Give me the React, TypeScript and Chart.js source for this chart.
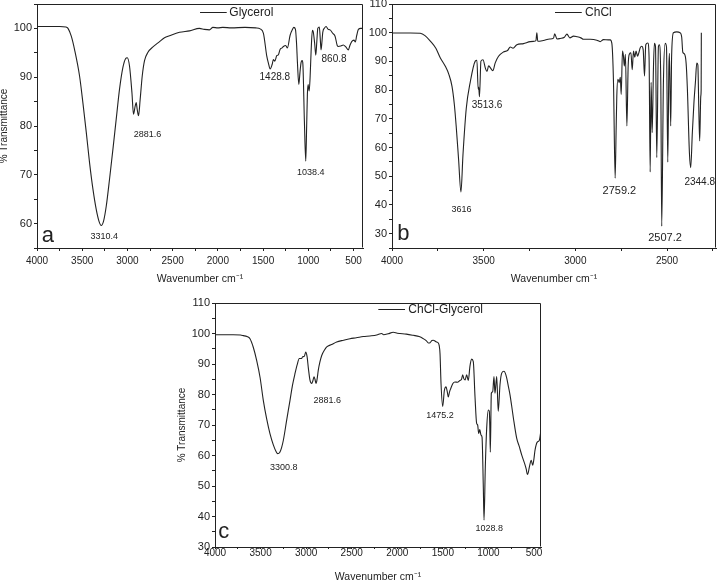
import React, { useEffect, useRef } from 'react';
import { Chart, registerables } from 'chart.js';

Chart.register(...registerables);

// ---------- Data (wavenumber cm-1, % transmittance) ----------
const glycerolWn = [4000, 3750, 3680, 3657, 3621, 3584, 3529, 3492, 3455, 3419, 3381, 3345, 3315, 3290, 3264, 3234, 3198, 3160, 3124, 3087, 3050, 3021, 3002, 2977, 2950, 2933, 2914, 2903, 2892, 2877, 2859, 2836, 2811, 2773, 2718, 2645, 2590, 2535, 2424, 2314, 2203, 2150, 2093, 2055, 2000, 1945, 1850, 1700, 1580, 1532, 1496, 1459, 1440, 1422, 1400, 1386, 1370, 1349, 1330, 1312, 1290, 1275, 1250, 1231, 1201, 1175, 1160, 1142, 1130, 1120, 1105, 1092, 1080, 1068, 1061, 1043, 1028, 1018, 1010, 1002, 997, 990, 980, 969, 955, 945, 930, 917, 905, 895, 878, 868, 859, 850, 840, 820, 803, 780, 759, 730, 704, 680, 667, 640, 612, 585, 557, 540, 520, 495, 480, 465, 446, 420, 397];
const glycerolT = [100.4, 100.4, 100.3, 100.0, 98.4, 95.6, 90.2, 84.7, 78.7, 72.5, 67.0, 62.9, 60.5, 59.6, 60.5, 63.6, 69.1, 75.3, 81.4, 87.6, 92.0, 93.8, 94.0, 92.3, 86.8, 82.4, 84.1, 84.8, 83.4, 82.1, 85.5, 90.3, 93.4, 95.1, 96.2, 97.3, 98.1, 98.5, 99.2, 99.5, 100.0, 99.8, 99.7, 100.2, 100.1, 100.2, 100.1, 100.2, 100.1, 99.9, 99.0, 94.3, 92.8, 91.7, 92.6, 93.6, 93.3, 94.4, 94.6, 95.7, 96.0, 96.3, 96.5, 96.0, 98.6, 99.8, 100.2, 99.8, 97.0, 93.0, 88.5, 91.0, 93.0, 93.4, 93.0, 80.9, 72.8, 80.0, 86.5, 88.5, 87.8, 87.2, 90.0, 95.2, 99.6, 99.3, 97.0, 94.5, 97.5, 100.0, 100.3, 98.0, 95.6, 97.0, 99.2, 100.1, 100.4, 99.8, 99.7, 99.0, 98.4, 96.5, 96.3, 96.4, 96.6, 96.2, 95.6, 96.5, 97.3, 97.6, 97.2, 98.5, 99.8, 100.0, 100.0];

const chclWn = [4000, 3900, 3846, 3820, 3791, 3760, 3737, 3710, 3690, 3673, 3660, 3650, 3637, 3624, 3613, 3595, 3573, 3546, 3537, 3530, 3527, 3523, 3515, 3504, 3490, 3482, 3473, 3464, 3450, 3437, 3419, 3392, 3370, 3355, 3340, 3319, 3283, 3246, 3225, 3215, 3210, 3205, 3174, 3140, 3119, 3113, 3100, 3083, 3060, 3046, 3030, 3010, 2992, 2970, 2956, 2919, 2883, 2865, 2847, 2820, 2810, 2801, 2792, 2783, 2778, 2774, 2768, 2761, 2755, 2750, 2743, 2738, 2733, 2727, 2719, 2712, 2705, 2697, 2690, 2683, 2676, 2669, 2661, 2654, 2646, 2638, 2630, 2623, 2616, 2605, 2598, 2592, 2587, 2581, 2574, 2569, 2563, 2556, 2547, 2542, 2534, 2529, 2520, 2510, 2503, 2496, 2490, 2487, 2480, 2475, 2465, 2447, 2429, 2420, 2414, 2405, 2396, 2389, 2378, 2371, 2362, 2353, 2345, 2338, 2332, 2327, 2322, 2316, 2314, 2313];
const chclT = [99.9, 99.9, 99.8, 99.0, 97.1, 94.5, 91.3, 88.4, 85.5, 81.4, 75.0, 67.5, 56.0, 44.5, 57.4, 73.6, 82.9, 90.1, 90.4, 80.3, 81.0, 77.7, 90.1, 90.6, 87.5, 86.5, 88.5, 87.8, 86.8, 89.5, 91.8, 93.3, 93.8, 95.0, 94.6, 95.8, 96.2, 96.9, 97.0, 97.3, 100.0, 97.0, 97.3, 97.8, 98.1, 99.6, 97.8, 98.0, 98.4, 99.5, 98.2, 98.8, 98.6, 98.2, 97.7, 97.7, 97.4, 96.9, 97.6, 97.5, 97.5, 96.3, 82.6, 49.3, 65.0, 77.9, 83.8, 82.6, 84.5, 78.5, 93.6, 92.0, 88.4, 92.5, 67.5, 88.4, 92.6, 93.0, 87.1, 93.6, 91.5, 93.6, 91.8, 93.0, 94.8, 95.3, 94.0, 84.9, 95.8, 96.4, 91.5, 51.5, 82.7, 65.2, 88.0, 96.3, 95.2, 56.5, 95.2, 95.8, 82.0, 32.6, 82.0, 96.3, 95.0, 54.9, 88.0, 92.8, 67.5, 92.0, 100.0, 100.3, 100.0, 98.4, 93.2, 92.6, 89.4, 80.3, 58.2, 53.0, 65.2, 76.0, 83.0, 89.4, 88.8, 74.3, 62.3, 77.9, 80.0, 100.0];

const mixWn = [4000, 3800, 3720, 3689, 3650, 3616, 3580, 3543, 3505, 3470, 3433, 3397, 3360, 3330, 3312, 3290, 3270, 3250, 3214, 3177, 3150, 3122, 3098, 3075, 3050, 3038, 3020, 3005, 2990, 2975, 2958, 2939, 2926, 2914, 2903, 2892, 2880, 2867, 2850, 2829, 2800, 2774, 2720, 2665, 2590, 2519, 2450, 2373, 2300, 2226, 2171, 2150, 2100, 2044, 2000, 1970, 1900, 1824, 1760, 1714, 1680, 1659, 1640, 1620, 1605, 1575, 1550, 1540, 1531, 1520, 1502, 1483, 1465, 1452, 1440, 1427, 1414, 1390, 1367, 1340, 1312, 1295, 1282, 1270, 1255, 1239, 1221, 1202, 1184, 1166, 1147, 1129, 1118, 1107, 1095, 1081, 1070, 1056, 1048, 1034, 1019, 1001, 990, 985, 979, 968, 953, 939, 928, 909, 892, 873, 854, 829, 815, 799, 780, 763, 745, 726, 690, 660, 635, 599, 585, 573, 562, 551, 530, 514, 500, 489, 464, 442, 426];
const mixT = [99.6, 99.6, 99.5, 99.3, 99.0, 98.3, 95.5, 91.2, 85.5, 78.1, 72.0, 67.2, 63.5, 61.3, 60.6, 61.0, 62.5, 65.0, 71.5, 78.1, 83.0, 86.9, 89.8, 91.8, 91.8, 92.4, 92.5, 93.9, 92.5, 88.5, 84.7, 83.6, 84.5, 85.8, 85.0, 83.6, 85.0, 87.9, 90.5, 92.8, 94.5, 95.6, 96.4, 97.2, 97.8, 98.3, 98.6, 99.0, 99.2, 99.5, 100.0, 99.6, 99.9, 100.4, 100.1, 100.0, 99.8, 99.4, 99.0, 98.3, 97.6, 96.9, 97.0, 97.7, 97.8, 97.3, 96.9, 96.0, 93.4, 83.6, 76.1, 81.4, 82.5, 81.0, 79.2, 80.8, 81.9, 83.6, 84.1, 84.0, 84.6, 85.0, 86.5, 85.2, 84.8, 86.5, 84.6, 89.4, 91.6, 90.8, 79.2, 70.5, 70.0, 67.2, 68.5, 66.7, 66.0, 49.7, 38.8, 56.3, 68.9, 74.9, 74.5, 70.0, 61.1, 80.4, 80.9, 85.9, 80.4, 85.9, 74.5, 83.2, 87.0, 87.6, 87.0, 85.4, 82.5, 79.9, 76.3, 72.3, 65.7, 62.8, 60.2, 57.0, 55.5, 53.8, 54.5, 56.2, 58.4, 56.8, 59.0, 61.7, 64.4, 64.9, 67.7];

// Tick values
const xTicksFull = [4000, 3750, 3500, 3250, 3000, 2750, 2500, 2250, 2000, 1750, 1500, 1250, 1000, 750, 500];
const yTicksA = [55, 60, 65, 70, 75, 80, 85, 90, 95, 100, 105];
const yTicksB = [25, 30, 35, 40, 45, 50, 55, 60, 65, 70, 75, 80, 85, 90, 95, 100, 105, 110];
const yTicksC = [30, 35, 40, 45, 50, 55, 60, 65, 70, 75, 80, 85, 90, 95, 100, 105, 110];

// Peak annotations: [text, wavenumber, %T, font size]
const peaksA: [string, number, number, number][] = [
  ['3310.4', 3256, 57.4, 9],
  ['2881.6', 2778, 78.3, 9],
  ['1428.8', 1370, 90.0, 10],
  ['1038.4', 972, 70.4, 9],
  ['860.8', 715, 93.6, 10],
];
const peaksB: [string, number, number, number][] = [
  ['3513.6', 3482, 74.7, 10],
  ['3616', 3621, 38.5, 9],
  ['2759.2', 2760, 44.8, 11],
  ['2507.2', 2511, 28.6, 11],
  ['2344.8', 2322, 48.0, 10],
];
const peaksC: [string, number, number, number][] = [
  ['3300.8', 3246, 56.2, 9],
  ['2881.6', 2768, 78.1, 9],
  ['1475.2', 1531, 73.0, 9],
  ['1028.8', 990, 36.2, 9],
];

const FONT = '"Liberation Sans", Arial, Helvetica, sans-serif';
const INK = '#222';

interface PanelSpec {
  wn: number[];
  t: number[];
  label: string;
  xMin: number;
  yMin: number;
  yMax: number;
  yTicks: number[];
  yTitle: boolean;
  pad: { left: number; right: number; top: number; bottom: number };
  yAxisW: number;
  xAxisH: number;
  xTickPad: number;
  xTickLen: number;
  xTitlePadBottom: number;
  peaks: [string, number, number, number][];
  letter: [string, number, number];
  legend: [number, number, number, number]; // line from wn, line to wn, text wn, %T
}

const panels: PanelSpec[] = [
  {
    wn: glycerolWn, t: glycerolT, label: 'Glycerol',
    xMin: 395, yMin: 55, yMax: 105, yTicks: yTicksA, yTitle: true,
    pad: { left: 0, right: 355, top: 4, bottom: 296 },
    yAxisW: 37, xAxisH: 37, xTickPad: 5, xTickLen: 3, xTitlePadBottom: 1,
    peaks: peaksA, letter: ['a', 3948, 56.3], legend: [2197, 1902, 1873, 103.4],
  },
  {
    wn: chclWn, t: chclT, label: 'ChCl',
    xMin: 2233, yMin: 25, yMax: 110, yTicks: yTicksB, yTitle: false,
    pad: { left: 367, right: 2, top: 4, bottom: 296 },
    yAxisW: 25, xAxisH: 37, xTickPad: 5, xTickLen: 3, xTitlePadBottom: 1,
    peaks: peaksB, letter: ['b', 3971, 27.8], legend: [3111, 2965, 2947, 107.2],
  },
  {
    wn: mixWn, t: mixT, label: 'ChCl-Glycerol',
    xMin: 423, yMin: 30, yMax: 110, yTicks: yTicksC, yTitle: true,
    pad: { left: 178, right: 177, top: 303, bottom: 0 },
    yAxisW: 37, xAxisH: 34, xTickPad: -1, xTickLen: 2, xTitlePadBottom: -1,
    peaks: peaksC, letter: ['c', 3964, 32.9], legend: [2208, 1915, 1879, 108.0],
  },
];

function annotations(p: PanelSpec) {
  return {
    id: 'annot-' + p.label,
    afterDatasetsDraw(chart: any) {
      const { ctx, chartArea, scales } = chart;
      const x = scales.x;
      const y = scales.y;
      ctx.save();
      // frame (top + right)
      ctx.strokeStyle = INK;
      ctx.lineWidth = 1;
      const l = Math.round(chartArea.left) + 0.5;
      const r = Math.round(chartArea.right) - 0.5;
      const t = Math.round(chartArea.top) + 0.5;
      const b = Math.round(chartArea.bottom) - 0.5;
      ctx.beginPath();
      ctx.moveTo(l, t);
      ctx.lineTo(r, t);
      ctx.lineTo(r, b);
      ctx.stroke();
      // peak labels
      ctx.fillStyle = INK;
      ctx.textAlign = 'center';
      ctx.textBaseline = 'middle';
      for (const [txt, w, v, s] of p.peaks) {
        ctx.font = `${s}px ${FONT}`;
        ctx.fillText(txt, x.getPixelForValue(w), y.getPixelForValue(v));
      }
      // panel letter
      ctx.font = `22px ${FONT}`;
      ctx.textAlign = 'left';
      ctx.textBaseline = 'alphabetic';
      ctx.fillText(p.letter[0], x.getPixelForValue(p.letter[1]), y.getPixelForValue(p.letter[2]));
      // legend
      const ly = Math.round(y.getPixelForValue(p.legend[3])) + 0.5;
      ctx.beginPath();
      ctx.moveTo(x.getPixelForValue(p.legend[0]), ly);
      ctx.lineTo(x.getPixelForValue(p.legend[1]), ly);
      ctx.stroke();
      ctx.font = `12px ${FONT}`;
      ctx.textBaseline = 'middle';
      ctx.fillText(p.label, x.getPixelForValue(p.legend[2]), ly);
      ctx.restore();
    },
  };
}

function makeConfig(p: PanelSpec): any {
  const data = p.wn.map((w, i) => ({ x: w, y: p.t[i] }));
  const xTicks = xTicksFull.filter((v) => v >= p.xMin);
  return {
    type: 'line',
    data: {
      datasets: [
        {
          label: p.label,
          data,
          borderColor: INK,
          borderWidth: 1.1,
          pointRadius: 0,
          fill: false,
          cubicInterpolationMode: 'monotone',
        },
      ],
    },
    options: {
      responsive: false,
      animation: false,
      events: [],
      layout: { padding: p.pad },
      plugins: { legend: { display: false }, tooltip: { enabled: false }, title: { display: false } },
      scales: {
        x: {
          type: 'linear',
          reverse: true,
          min: p.xMin,
          max: 4000,
          afterBuildTicks: (s: any) => {
            s.ticks = xTicks.map((v) => ({ value: v }));
          },
          afterFit: (s: any) => {
            s.height = p.xAxisH;
            s.paddingLeft = 0;
            s.paddingRight = 0;
            s.paddingTop = 0;
            s.paddingBottom = 0;
          },
          ticks: {
            autoSkip: false,
            maxRotation: 0,
            minRotation: 0,
            padding: p.xTickPad,
            color: INK,
            font: { family: FONT, size: 10, lineHeight: 1 },
            callback: (v: number) => (v % 500 === 0 ? String(v) : ''),
          },
          grid: { drawOnChartArea: false, tickLength: p.xTickLen, tickColor: INK },
          border: { color: INK, width: 1 },
          title: {
            display: true,
            text: 'Wavenumber cm⁻¹',
            color: INK,
            font: { family: FONT, size: 10.5, lineHeight: 1 },
            padding: { top: 0, bottom: p.xTitlePadBottom },
          },
        },
        y: {
          type: 'linear',
          min: p.yMin,
          max: p.yMax,
          afterBuildTicks: (s: any) => {
            s.ticks = p.yTicks.map((v) => ({ value: v }));
          },
          afterFit: (s: any) => {
            s.width = p.yAxisW;
            s.paddingTop = 0;
            s.paddingBottom = 0;
            s.paddingLeft = 0;
            s.paddingRight = 0;
          },
          ticks: {
            autoSkip: false,
            padding: 2,
            color: INK,
            font: { family: FONT, size: 11, lineHeight: 1 },
            callback: (v: number) => (v % 10 === 0 ? String(v) : ''),
          },
          grid: { drawOnChartArea: false, tickLength: 3, tickColor: INK },
          border: { color: INK, width: 1 },
          title: {
            display: p.yTitle,
            text: '% Transmittance',
            color: INK,
            font: { family: FONT, size: 10, lineHeight: 1 },
            padding: { top: -1, bottom: 0 },
          },
        },
      },
    },
    plugins: [annotations(p)],
  };
}

function Panel({ spec }: { spec: PanelSpec }) {
  const ref = useRef<HTMLCanvasElement | null>(null);
  useEffect(() => {
    if (!ref.current) return;
    const chart = new Chart(ref.current, makeConfig(spec));
    return () => chart.destroy();
  }, [spec]);
  return (
    <canvas
      ref={ref}
      width={718}
      height={581}
      style={{ position: 'absolute', left: 0, top: 0, width: 718, height: 581 }}
    />
  );
}

export default function App() {
  return (
    <div
      style={{
        position: 'absolute',
        left: 0,
        top: 0,
        width: 718,
        height: 581,
        background: '#fff',
        overflow: 'hidden',
      }}
    >
      {panels.map((p) => (
        <Panel key={p.label} spec={p} />
      ))}
    </div>
  );
}
